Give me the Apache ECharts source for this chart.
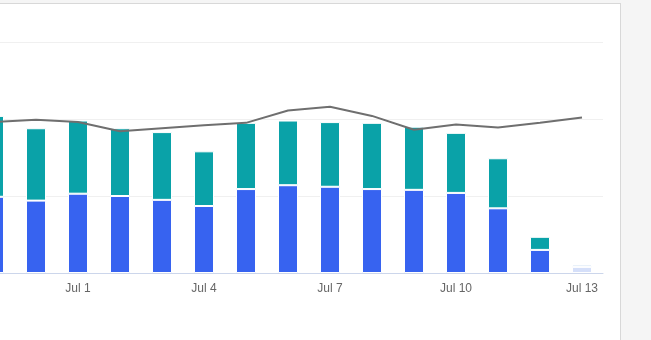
<!DOCTYPE html>
<html>
<head>
<meta charset="utf-8">
<script src="https://cdn.jsdelivr.net/npm/echarts@6/dist/echarts.min.js"></script>
<style>
  html, body { margin: 0; padding: 0; width: 651px; height: 340px; overflow: hidden; background: #f5f5f5; }
  #panel { position: absolute; left: -10px; top: 3px; width: 629px; height: 400px; background: #fff; border: 1px solid #d8d8d8; }
  #chart { position: absolute; left: -40px; top: 0; width: 691px; height: 340px; }
</style>
</head>
<body>
<div id="panel"></div>
<div id="chart"></div>
<script>
// Daily totals, split into two stacked parts, plus a trend line
const days = ['Jun 29', 'Jun 30', 'Jul 1', 'Jul 2', 'Jul 3', 'Jul 4', 'Jul 5', 'Jul 6',
              'Jul 7', 'Jul 8', 'Jul 9', 'Jul 10', 'Jul 11', 'Jul 12', 'Jul 13'];
const baseValues = [99, 94, 103, 100, 95, 87, 109, 114, 112, 109, 108, 104, 84, 30, 8];
const topValues  = [105, 94, 95, 88, 88, 71, 86, 84, 84, 86, 82, 78, 65, 17, 3];
const trendValues = [196, 199, 196, 184, 188, 192, 195, 211, 216, 204, 186, 193, 189, 195, 202];
const yTicks = [0, 100, 200, 300];

const BLUE = '#3763f0';
const TEAL = '#0aa2a8';
const lastIdx = days.length - 1; // current (partial) day is drawn faded

function withFade(values, fadeColor) {
  return values.map((v, i) => i === lastIdx ? { value: v, itemStyle: { color: fadeColor } } : v);
}

const chart = echarts.init(document.getElementById('chart'), null, { renderer: 'canvas' });
chart.setOption({
  animation: false,
  backgroundColor: 'transparent',
  grid: { left: 13, right: 48, top: 42, bottom: 67, containLabel: false },
  xAxis: {
    type: 'category',
    data: days,
    boundaryGap: true,
    axisLine: { lineStyle: { color: '#ccd6eb', width: 1 } },
    axisTick: { show: false },
    axisLabel: {
      interval: (idx) => idx % 3 === 2,
      color: '#666666',
      fontSize: 12,
      fontFamily: 'Liberation Sans, Arial, sans-serif',
      margin: 10
    },
    splitLine: { show: false }
  },
  yAxis: {
    type: 'value',
    min: yTicks[0],
    max: yTicks[yTicks.length - 1],
    interval: yTicks[1] - yTicks[0],
    axisLine: { show: false },
    axisTick: { show: false },
    axisLabel: { show: false },
    splitLine: { lineStyle: { color: '#f0f0f0', width: 1 } }
  },
  series: [
    {
      name: 'Base',
      type: 'bar',
      stack: 'total',
      barWidth: 20,
      data: withFade(baseValues, '#d5dff9'),
      itemStyle: { color: BLUE, borderColor: '#ffffff', borderWidth: 1 },
      z: 2
    },
    {
      name: 'Top',
      type: 'bar',
      stack: 'total',
      barWidth: 20,
      data: withFade(topValues, '#c8dbf4'),
      itemStyle: { color: TEAL, borderColor: '#ffffff', borderWidth: 1 },
      z: 2
    },
    {
      name: 'Trend',
      type: 'line',
      data: trendValues,
      showSymbol: false,
      symbol: 'none',
      lineStyle: { color: '#6f6f6f', width: 2 },
      z: 5
    }
  ]
});
</script>
</body>
</html>
